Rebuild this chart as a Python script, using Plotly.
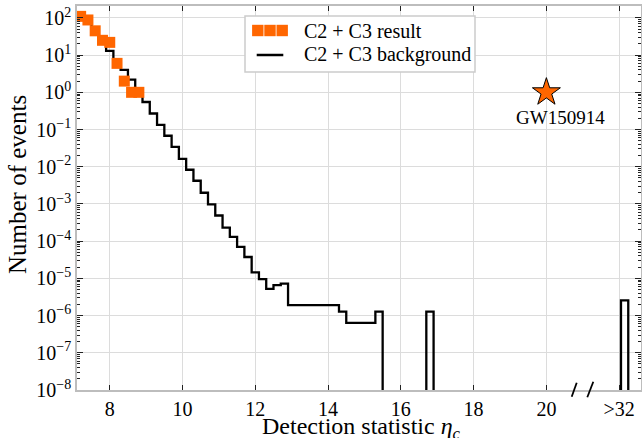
import numpy as np
import plotly.graph_objects as go

# ---- data ----
# C2 + C3 result (foreground events), plotted at bin centres
res_x = [7.2, 7.4, 7.6, 7.8, 8.0, 8.2, 8.4, 8.6, 8.8]
res_n = [110, 88, 45, 25, 22, 6, 2, 1, 1]

# C2 + C3 background: bin edges and expected number of events per bin
bg_edges = [7.1, 7.3, 7.5, 7.7, 7.9, 8.1, 8.3, 8.5, 8.7, 8.9, 9.1, 9.3, 9.5, 9.7,
            9.9, 10.1, 10.3, 10.5, 10.7, 10.9, 11.1, 11.3, 11.5, 11.7, 11.9, 12.1,
            12.3, 12.5, 12.7, 12.9, 14.3, 14.5, 15.3, 15.5, 16.7, 16.9, 22.05, 22.25]
bg_counts = [105, 72, 44, 22, 13, 7.2, 4.0, 2.2, 1.15, 0.55, 0.27, 0.134, 0.068,
             0.034, 0.0163, 0.0083, 0.0042, 0.0020, 0.00097, 0.00049, 0.00023,
             0.000131, 7.0e-5, 3.75e-5, 1.45e-5, 9.6e-6, 5.2e-6, 6.6e-6, 7.2e-6,
             1.92e-6, 1.28e-6, 6.4e-7, 1.28e-6, 0, 1.28e-6, 0, 2.56e-6]

# GW150914
gw_x = [20]
gw_n = [1]
gw_label = "GW150914"

# tick labels
x_tickvals = [8, 10, 12, 14, 16, 18, 20, 22]
x_ticktext = ["8", "10", "12", "14", "16", "18", "20", ">32"]
y_exponents = [-8, -7, -6, -5, -4, -3, -2, -1, 0, 1, 2]

x_title = "Detection statistic <i>η</i><sub><i>c</i></sub>"
y_title = "Number of events"

ORANGE = "#ff6600"
FONT = "Liberation Serif"

# ---- figure ----
W, H = 642, 438
ML, MR, MT, MB = 77, 1, 6, 48
PW, PH = W - ML - MR, H - MT - MB


def px(x):
    return (x - ML) / PW


def py(y):
    return (H - MB - y) / PH


step_y = np.array(bg_counts + [0], dtype=float)
step_y = np.where(step_y > 0, step_y, 1e-12)

fig = go.Figure()
fig.add_trace(go.Scatter(x=bg_edges, y=step_y, mode="lines", line_shape="hv",
                         line=dict(color="black", width=2.3), showlegend=False,
                         name="C2 + C3 background"))
fig.add_trace(go.Scatter(x=res_x, y=res_n, mode="markers",
                         marker=dict(symbol="square", size=11, color=ORANGE,
                                     line=dict(width=0)),
                         showlegend=False, name="C2 + C3 result"))
fig.add_trace(go.Scatter(x=gw_x, y=gw_n, mode="markers",
                         marker=dict(symbol="star", size=21, color=ORANGE,
                                     line=dict(width=1, color="black")),
                         showlegend=False, name=gw_label))

fig.add_annotation(x=gw_x[0], y=np.log10(gw_n[0]), text=gw_label, showarrow=False,
                   xshift=14, yshift=-25, font=dict(family=FONT, size=19, color="black"))

# manual legend (matplotlib style with three markers)
shapes = [
    dict(type="rect", xref="paper", yref="paper", x0=px(245), x1=px(475), y0=py(72), y1=py(16),
         fillcolor="white", line=dict(color="#cccccc", width=1.5), layer="above"),
]
for cx in (257.8, 270.0, 282.2):
    shapes.append(dict(type="rect", xref="paper", yref="paper", x0=px(cx - 5.7), x1=px(cx + 5.7),
                       y0=py(36.2), y1=py(24.8), fillcolor=ORANGE, line=dict(width=0), layer="above"))
shapes.append(dict(type="line", xref="paper", yref="paper", x0=px(256.7), x1=px(283.3),
                   y0=py(55), y1=py(55), line=dict(color="black", width=2.5), layer="above"))
# axis break marks
for (x0, y0, x1, y1) in [(571.7, 396.7, 576.7, 382.7), (587.3, 397.3, 593.3, 381.7)]:
    shapes.append(dict(type="line", xref="paper", yref="paper", x0=px(x0), x1=px(x1),
                       y0=py(y0), y1=py(y1), line=dict(color="black", width=1.8), layer="above"))
fig.update_layout(shapes=shapes)
for text, yy in (("C2 + C3 result", 30.7), ("C2 + C3 background", 55)):
    fig.add_annotation(xref="paper", yref="paper", x=px(301.7), y=py(yy), text=text,
                       showarrow=False, xanchor="left", yanchor="middle",
                       font=dict(family=FONT, size=20, color="black"))

# axis titles
fig.add_annotation(xref="paper", yref="paper", x=px(361), y=py(428), text=x_title,
                   showarrow=False, xanchor="center", yanchor="middle",
                   font=dict(family=FONT, size=24, color="black"))
fig.add_annotation(xref="paper", yref="paper", x=px(17), y=py(185), text=y_title,
                   showarrow=False, xanchor="center", yanchor="middle", textangle=-90,
                   font=dict(family=FONT, size=25, color="black"))

fig.update_layout(
    width=W, height=H,
    margin=dict(l=ML, r=MR, t=MT, b=MB, autoexpand=False),
    plot_bgcolor="white", paper_bgcolor="white",
    font=dict(family=FONT, size=20, color="black"),
)
fig.update_xaxes(
    range=[7.1, 22.6], tickmode="array", tickvals=x_tickvals, ticktext=x_ticktext,
    showgrid=True, gridcolor="#dcdcdc", gridwidth=1, zeroline=False, automargin=False,
    showline=True, linecolor="#bdbdbd", linewidth=1.5, mirror="ticks",
    ticks="inside", ticklen=5, tickcolor="#222", tickwidth=1,
    tickfont=dict(family=FONT, size=20),
)
fig.update_yaxes(
    type="log", range=[-8, 2.32], tickmode="array",
    tickvals=[10.0 ** e for e in y_exponents],
    ticktext=["10<sup>%s</sup>" % (str(e).replace("-", "\u2212")) for e in y_exponents],
    showgrid=True, gridcolor="#dcdcdc", gridwidth=1, zeroline=False, automargin=False,
    showline=True, linecolor="#bdbdbd", linewidth=1.5, mirror="ticks",
    ticks="inside", ticklen=6, tickcolor="#222", tickwidth=1,
    minor=dict(ticks="inside", ticklen=3, tickcolor="#222", dtick="D1", showgrid=False),
    tickfont=dict(family=FONT, size=20),
)

fig.write_html("out.html", config={"displayModeBar": False},
               post_script="document.body.style.margin='0px';document.body.style.overflow='hidden';")
